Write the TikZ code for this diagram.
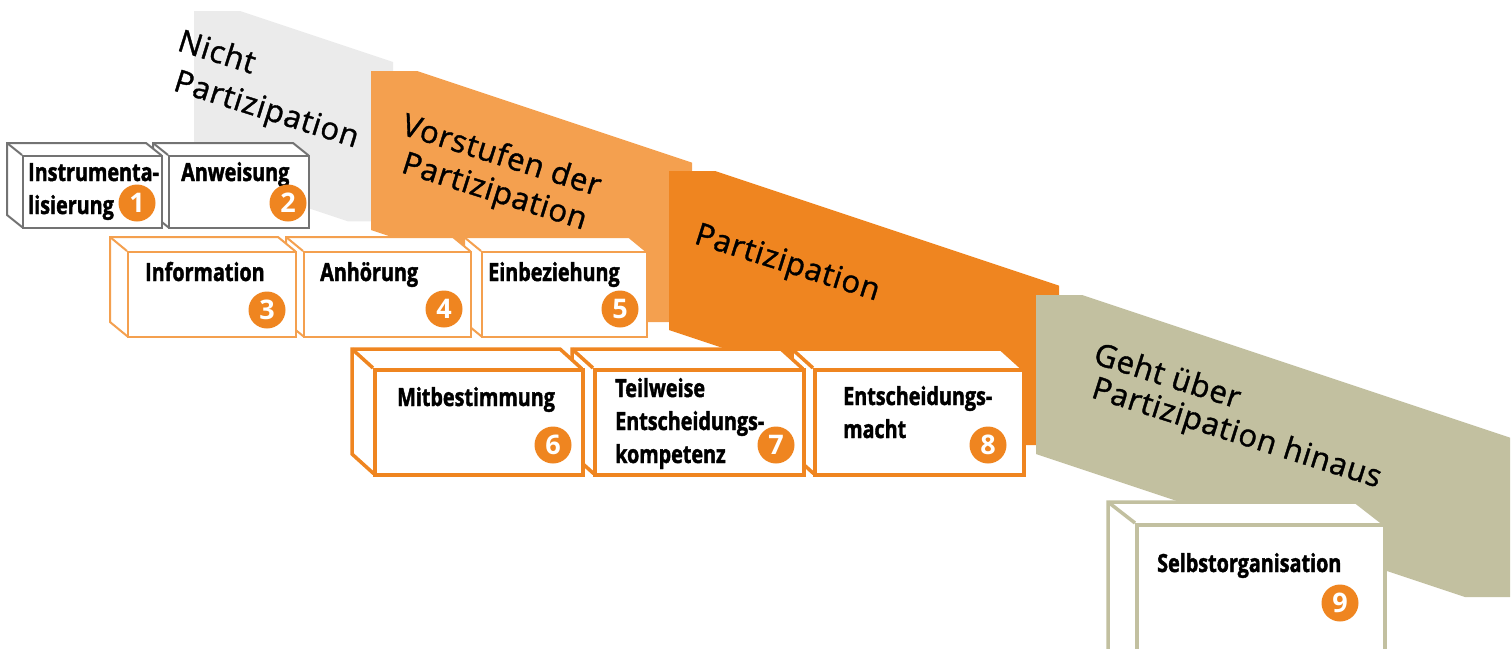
\documentclass[tikz,border=0pt]{standalone}
\usepackage{fontspec}
\setmainfont{Open Sans}
\newfontfamily\boxfont[FakeStretch=0.79, FakeBold=1.6]{Open Sans}
\newfontfamily\bandfont[LetterSpace=2.5, FakeBold=1.2]{Open Sans}
\definecolor{bandgrey}{HTML}{EBEBEB}
\definecolor{bandlight}{HTML}{F4A04F}
\definecolor{bandorange}{HTML}{EF8520}
\definecolor{bandkhaki}{HTML}{C2C0A0}
\definecolor{boxgrey}{HTML}{737373}
\tikzset{
  bandtext/.style={font=\bandfont\fontsize{31}{31}\selectfont, rotate=-17.5, anchor=base west, inner sep=0pt, text=black},
  boxtext/.style={font=\boxfont\bfseries\fontsize{25}{25}\selectfont, anchor=base west, inner sep=0pt, text=black},
  numdisc/.style={circle, fill=bandorange, minimum size=37pt, inner sep=0pt, text=white,
    font=\bfseries\fontsize{27}{27}\selectfont},
}
% #1 name, #2 colour, #3 line width, #4 dx, #5 dy, #6 x0, #7 y0, #8 x1, #9 y1 (front face)
\newcommand\qbox[9]{%
  \filldraw[draw=#2, line width=#3, fill=white, line join=miter]
    (#6-#4,#7-#5) -- (#8-#4,#7-#5) -- (#8,#7) -- (#8,#9) -- (#6,#9) -- (#6-#4,#9-#5) -- cycle;
  \draw[draw=#2, line width=#3] (#6-#4,#7-#5) -- (#6,#7);
  \node[name=#1, draw=#2, line width=#3, fill=white, inner sep=0pt, anchor=north west,
    minimum width={#8-#6}, minimum height={#9-#7}] at (#6,#7) {};
}
% band: #1 colour, #2 x0, #3 y0, #4 x1
\newcommand\qband[4]{%
  \fill[#1] (#2,#3) -- (#2+46,#3) -- (#4,{#3+(#4-#2-46)/3}) -- (#4,{#3+159+(#4-45-#2)/3})
    -- (#4-45,{#3+159+(#4-45-#2)/3}) -- (#2,#3+159) -- cycle;
}
\begin{document}
\begin{tikzpicture}[x=1pt,y=-1pt]
\useasboundingbox (0,0) rectangle (1511,648);
% bands
\qband{bandgrey}{194}{11}{393}
\qband{bandlight}{371}{71}{692}
\qband{bandorange}{669}{171}{1059}
\qband{bandkhaki}{1036}{295}{1510}
\node[bandtext] (n1a) at (176,50) {Nicht};
\node[bandtext] (n1b) at (172,90) {Partizipation};
\node[bandtext] (n2a) at (400,134) {Vorstufen der};
\node[bandtext] (n2b) at (400,172) {Partizipation};
\node[bandtext] (n3a) at (693,243) {Partizipation};
\node[bandtext] (n4a) at (1092,363) {Geht über};
\node[bandtext] (n4b) at (1090,397) {Partizipation hinaus};
% row 1
\qbox{b2}{boxgrey}{2pt}{15}{12}{168}{155}{308}{227}
\qbox{b1}{boxgrey}{2pt}{15}{12}{22}{155}{161}{227}
% row 2
\qbox{b5}{bandlight}{2pt}{17}{14}{481}{251}{646}{336}
\qbox{b4}{bandlight}{2pt}{17}{14}{303}{251}{470}{336}
\qbox{b3}{bandlight}{2pt}{17}{14}{127}{251}{295}{336}
% row 3
\qbox{b8}{bandorange}{3.5pt}{21}{19}{813}{368}{1022}{473}
\qbox{b7}{bandorange}{3.5pt}{21}{19}{593}{368}{802}{473}
\qbox{b6}{bandorange}{3.5pt}{21}{19}{373}{368}{581}{473}
% row 4
\qbox{b9}{bandkhaki}{3.5pt}{27}{21}{1135}{523}{1383}{680}
% texts
\node[boxtext] (t1a) at (28,181) {Instrumenta-};
\node[boxtext] (t1b) at (28,214) {lisierung};
\node[boxtext] (t2) at (181,181) {Anweisung};
\node[boxtext] (t3) at (145,281) {Information};
\node[boxtext] (t4) at (320,281) {Anhörung};
\node[boxtext] (t5) at (488,281) {Einbeziehung};
\node[boxtext] (t6) at (397,406) {Mitbestimmung};
\node[boxtext] (t7a) at (615,397) {Teilweise};
\node[boxtext] (t7b) at (615,430) {Entscheidungs-};
\node[boxtext] (t7c) at (615,463) {kompetenz};
\node[boxtext] (t8a) at (843,405) {Entscheidungs-};
\node[boxtext] (t8b) at (843,438) {macht};
\node[boxtext] (t9) at (1157,572) {Selbstorganisation};
% numbers
\node[numdisc] (c1) at (137,203) {1};
\node[numdisc] (c2) at (288,203) {2};
\node[numdisc] (c3) at (267,310) {3};
\node[numdisc] (c4) at (444,309) {4};
\node[numdisc] (c5) at (620,309) {5};
\node[numdisc] (c6) at (553,445) {6};
\node[numdisc] (c7) at (776,445) {7};
\node[numdisc] (c8) at (988,445) {8};
\node[numdisc] (c9) at (1340,603) {9};
\end{tikzpicture}
\end{document}
